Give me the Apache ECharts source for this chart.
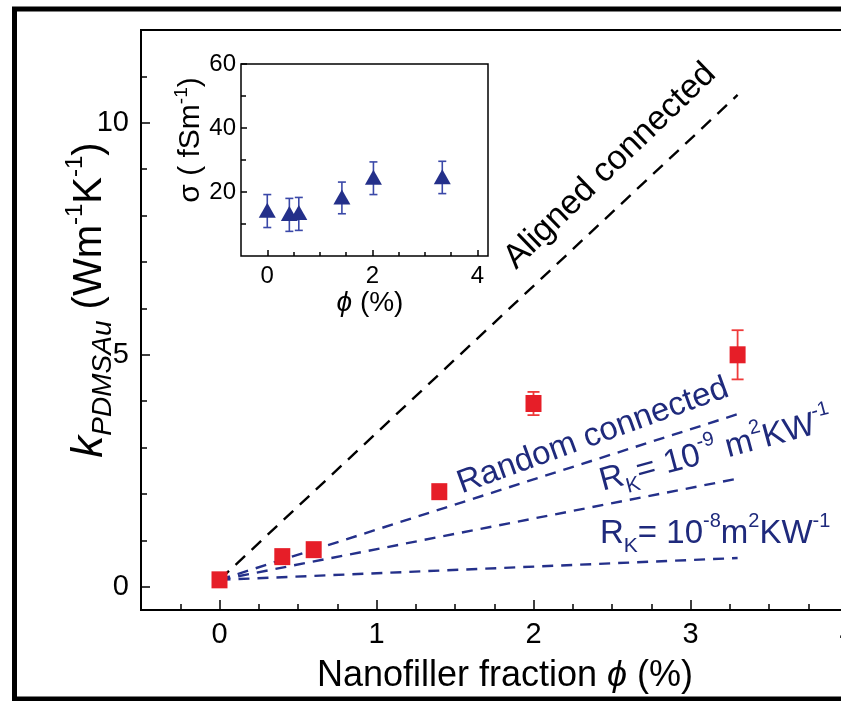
<!DOCTYPE html>
<html><head><meta charset="utf-8">
<script src="https://cdn.jsdelivr.net/npm/echarts@6/dist/echarts.min.js"></script>
<style>html,body{margin:0;padding:0;background:#fff}#c{width:841px;height:701px}</style>
</head><body><div id="c"></div>
<script>
// ---------- main plot data ----------
const mainPhi = [0, 0.4, 0.6, 1.4, 2.0, 3.3];
const mainK = [0.15, 0.65, 0.8, 2.05, 3.95, 5.0];
const mainKErr = [0.04, 0.05, 0.05, 0.06, 0.25, 0.53];
const alignedLine = [[0, 0.15], [3.3, 10.6]];
const randomLine = [[0, 0.15], [3.3, 3.72]];
const rk9Line = [[0, 0.15], [3.3, 2.33]];
const rk8Line = [[0, 0.15], [3.3, 0.62]];
const mainXTicks = [0, 1, 2, 3, 4];
const mainXMinor = [-0.25, 0.25, 0.5, 0.75, 1.25, 1.5, 1.75, 2.25, 2.5, 2.75, 3.25, 3.5, 3.75, 4.25];
const mainYTicks = [0, 5, 10];
const mainYMinor = [1, 2, 3, 4, 6, 7, 8, 9, 11];
// ---------- inset data ----------
const insetPhi = [0, 0.42, 0.6, 1.42, 2.02, 3.33];
const insetSigma = [14.3, 13.3, 13.6, 18.4, 24.6, 24.8];
const insetLow = [8.9, 7.7, 8.0, 13.2, 19.2, 19.5];
const insetHigh = [19.2, 18.0, 18.3, 23.1, 29.4, 29.6];
const insetXTicks = [0, 2, 4];
const insetXMinor = [0.5, 1, 1.5, 2.5, 3, 3.5];
const insetYTicks = [20, 40, 60];
const insetYMinor = [10, 30, 50];

const FONT = 'Liberation Sans, Arial, sans-serif';
const RED = '#e61e28';
const NAVY = '#24308a';
const TXTNAVY = '#1f2a7c';

function errRender(capHalf, lw, color) {
  return function (params, api) {
    const x = api.value(0), lo = api.value(1), hi = api.value(2);
    const a = api.coord([x, lo]), b = api.coord([x, hi]);
    const st = { stroke: color, lineWidth: lw };
    return { type: 'group', children: [
      { type: 'line', shape: { x1: a[0], y1: a[1], x2: b[0], y2: b[1] }, style: st },
      { type: 'line', shape: { x1: a[0] - capHalf, y1: a[1], x2: a[0] + capHalf, y2: a[1] }, style: st },
      { type: 'line', shape: { x1: b[0] - capHalf, y1: b[1], x2: b[0] + capHalf, y2: b[1] }, style: st }
    ]};
  };
}

function tickAxis(dim, grid, min, max, ticks, len, showLine, labelCfg) {
  const ax = {
    type: 'value', gridIndex: grid, min: min, max: max,
    splitLine: { show: false },
    axisLine: { show: showLine, onZero: false, lineStyle: { color: '#000', width: 2 } },
    axisTick: { show: true, inside: true, length: len, customValues: ticks, lineStyle: { color: '#000', width: 1.5 } },
    axisLabel: labelCfg ? Object.assign({ customValues: ticks, color: '#000', fontFamily: FONT }, labelCfg) : { show: false }
  };
  ax.position = dim === 'x' ? 'bottom' : 'left';
  return ax;
}

const chart = echarts.init(document.getElementById('c'), null, { renderer: 'canvas' });

const richMain = {
  n: { fontSize: 40, fontFamily: FONT, fill: '#000', lineHeight: 54, verticalAlign: 'middle' },
  k: { fontSize: 44, fontFamily: FONT, fontStyle: 'italic', fill: '#000', lineHeight: 54, verticalAlign: 'middle' },
  sub: { fontSize: 28, fontFamily: FONT, fontStyle: 'italic', fill: '#000', lineHeight: 28, verticalAlign: 'bottom' },
  sup: { fontSize: 24, fontFamily: FONT, fill: '#000', lineHeight: 24, verticalAlign: 'top' }
};
function navyRich(fs) {
  return {
    n: { fontSize: fs, fontFamily: FONT, fill: TXTNAVY, lineHeight: fs + 12, verticalAlign: 'middle' },
    sub: { fontSize: Math.round(fs * 0.65), fontFamily: FONT, fill: TXTNAVY, lineHeight: Math.round(fs * 0.65), verticalAlign: 'bottom' },
    sup: { fontSize: Math.round(fs * 0.6), fontFamily: FONT, fill: TXTNAVY, lineHeight: Math.round(fs * 0.6), verticalAlign: 'top' }
  };
}

const option = {
  animation: false,
  backgroundColor: '#fff',
  grid: [
    { left: 141, top: 30, width: 785, height: 580, outerBoundsMode: 'none', containLabel: false, show: true, borderColor: '#000', borderWidth: 2, backgroundColor: 'transparent' },
    { left: 241, top: 64, width: 247, height: 192, outerBoundsMode: 'none', containLabel: false, show: true, borderColor: '#000', borderWidth: 1.5, backgroundColor: '#fff', z: 3 }
  ],
  xAxis: [
    tickAxis('x', 0, -0.5, 4.5, mainXTicks, 10, true, { fontSize: 29, margin: 10 }),
    tickAxis('x', 0, -0.5, 4.5, mainXMinor, 6, false, null),
    Object.assign(tickAxis('x', 1, -0.5, 4.2, insetXTicks, 6, false, { fontSize: 24, margin: 8 }), { z: 4 }),
    Object.assign(tickAxis('x', 1, -0.5, 4.2, insetXMinor, 4, false, null), { z: 4 })
  ],
  yAxis: [
    tickAxis('y', 0, -0.5, 12, mainYTicks, 9, true, { fontSize: 29, margin: 12 }),
    tickAxis('y', 0, -0.5, 12, mainYMinor, 6, false, null),
    Object.assign(tickAxis('y', 1, 0, 60, insetYTicks, 6, false, { fontSize: 24, margin: 5 }), { z: 4 }),
    Object.assign(tickAxis('y', 1, 0, 60, insetYMinor, 5, false, null), { z: 4 })
  ],
  series: [
    { type: 'line', xAxisIndex: 0, yAxisIndex: 0, data: alignedLine, showSymbol: false, symbol: 'none',
      lineStyle: { color: '#000', width: 2.4, type: [13, 9] }, z: 2 },
    { type: 'line', xAxisIndex: 0, yAxisIndex: 0, data: randomLine, showSymbol: false, symbol: 'none',
      lineStyle: { color: NAVY, width: 2.4, type: [11, 8] }, z: 2 },
    { type: 'line', xAxisIndex: 0, yAxisIndex: 0, data: rk9Line, showSymbol: false, symbol: 'none',
      lineStyle: { color: NAVY, width: 2.4, type: [11, 8] }, z: 2 },
    { type: 'line', xAxisIndex: 0, yAxisIndex: 0, data: rk8Line, showSymbol: false, symbol: 'none',
      lineStyle: { color: NAVY, width: 2.4, type: [11, 8] }, z: 2 },
    { type: 'custom', xAxisIndex: 0, yAxisIndex: 0, renderItem: errRender(6, 1.8, '#ef3a3a'),
      data: mainPhi.map((x, i) => [x, mainK[i] - mainKErr[i], mainK[i] + mainKErr[i]]), z: 3 },
    { type: 'scatter', xAxisIndex: 0, yAxisIndex: 0, symbol: 'rect', symbolSize: [16, 17],
      itemStyle: { color: RED, opacity: 1 }, data: mainPhi.map((x, i) => [x, mainK[i]]), z: 5 },
    { type: 'custom', xAxisIndex: 2, yAxisIndex: 2, renderItem: errRender(4, 1.6, '#3a48a8'),
      data: insetPhi.map((x, i) => [x, insetLow[i], insetHigh[i]]), z: 6 },
    { type: 'scatter', xAxisIndex: 2, yAxisIndex: 2, symbol: 'triangle', symbolSize: [17, 15],
      itemStyle: { color: NAVY, opacity: 1 }, data: insetPhi.map((x, i) => [x, insetSigma[i]]), z: 7 }
  ],
  graphic: [
    { type: 'rect', shape: { x: 14.5, y: 9, width: 900, height: 690 }, style: { fill: 'none', stroke: '#000', lineWidth: 5 }, z: 100 },
    { type: 'text', x: 90, y: 300, rotation: Math.PI / 2, z: 50,
      style: { text: '{k|k}{sub|PDMSAu}{n| (Wm}{sup|-1}{n|K}{sup|-1}{n|)}', rich: richMain, align: 'center', verticalAlign: 'middle' } },
    { type: 'text', x: 505, y: 676, z: 50,
      style: { text: '{n|Nanofiller fraction }{i|ϕ}{n| (%)}', align: 'center', verticalAlign: 'middle',
        rich: { n: { fontSize: 36, fontFamily: FONT, fill: '#000' }, i: { fontSize: 36, fontFamily: FONT, fontStyle: 'italic', fill: '#000' } } } },
    { type: 'text', x: 191, y: 140, rotation: Math.PI / 2, z: 50,
      style: { text: '{n|σ ( fSm}{sup|-1}{n|)}', align: 'center', verticalAlign: 'middle',
        rich: { n: { fontSize: 30, fontFamily: FONT, fill: '#000', lineHeight: 38, verticalAlign: 'middle' },
                sup: { fontSize: 19, fontFamily: FONT, fill: '#000', lineHeight: 19, verticalAlign: 'top' } } } },
    { type: 'text', x: 370, y: 303, z: 50,
      style: { text: '{i|ϕ}{n| (%)}', align: 'center', verticalAlign: 'middle',
        rich: { n: { fontSize: 28, fontFamily: FONT, fill: '#000' }, i: { fontSize: 28, fontFamily: FONT, fontStyle: 'italic', fill: '#000' } } } },
    { type: 'text', x: 610, y: 166, rotation: 44 * Math.PI / 180, z: 50,
      style: { text: 'Aligned connected', font: '34px ' + FONT, fill: '#000', align: 'center', verticalAlign: 'middle' } },
    { type: 'text', x: 593, y: 436, rotation: 20 * Math.PI / 180, z: 50,
      style: { text: 'Random connected', font: '33px ' + FONT, fill: TXTNAVY, align: 'center', verticalAlign: 'middle' } },
    { type: 'text', x: 716, y: 451, rotation: 15 * Math.PI / 180, z: 50,
      style: { text: '{n|R}{sub|K}{n|= 10}{sup|-9}{n| m}{sup|2}{n|KW}{sup|-1}', rich: navyRich(33), align: 'center', verticalAlign: 'middle' } },
    { type: 'text', x: 600, y: 534, z: 50,
      style: { text: '{n|R}{sub|K}{n|= 10}{sup|-8}{n|m}{sup|2}{n|KW}{sup|-1}', rich: navyRich(33), align: 'left', verticalAlign: 'middle' } }
  ]
};
chart.setOption(option);
</script>
</body></html>
